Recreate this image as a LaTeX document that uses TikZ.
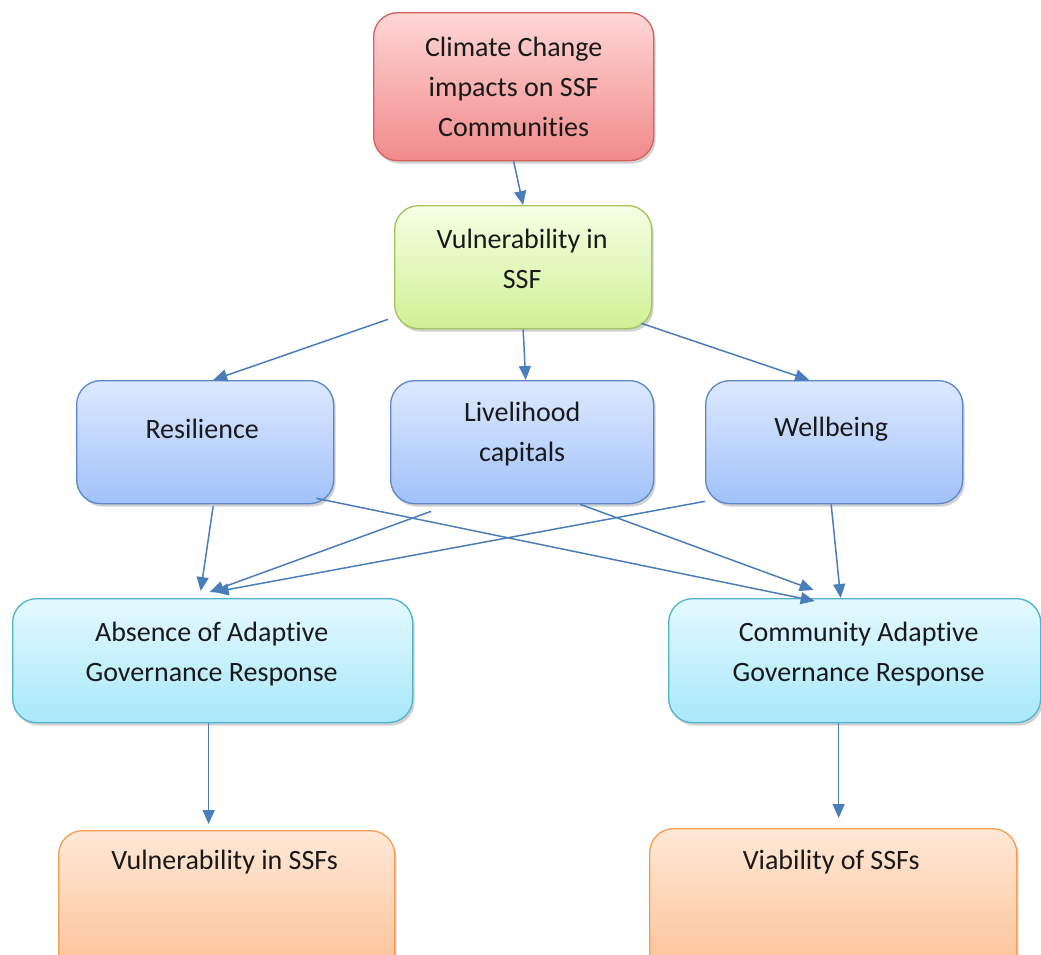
\documentclass[tikz,border=0pt]{standalone}
\usepackage{fontspec}
\setmainfont{Carlito}[Ligatures={NoCommon,NoContextual}]
\usetikzlibrary{arrows.meta,shadows,calc}

\definecolor{redtop}{RGB}{255,214,214}
\definecolor{redbot}{RGB}{241,138,138}
\definecolor{redline}{RGB}{214,98,96}
\definecolor{greentop}{RGB}{246,255,228}
\definecolor{greenbot}{RGB}{208,240,148}
\definecolor{greenline}{RGB}{160,196,96}
\definecolor{bluetop}{RGB}{222,233,255}
\definecolor{bluebot}{RGB}{160,194,250}
\definecolor{blueline}{RGB}{92,135,200}
\definecolor{cyantop}{RGB}{228,249,255}
\definecolor{cyanbot}{RGB}{168,232,250}
\definecolor{cyanline}{RGB}{80,178,204}
\definecolor{orangetop}{RGB}{255,232,214}
\definecolor{orangebot}{RGB}{252,192,148}
\definecolor{orangeline}{RGB}{246,156,84}
\definecolor{arrowblue}{RGB}{74,126,187}
\definecolor{inktext}{RGB}{25,25,25}

\tikzset{
  box/.style={draw, line width=1.3pt, rounded corners=24pt, anchor=north west,
    inner sep=0pt,
    drop shadow={shadow xshift=2pt, shadow yshift=-3pt, opacity=0.18, fill=black}},
  redbox/.style={box, draw=redline, top color=redtop, bottom color=redbot},
  greenbox/.style={box, draw=greenline, top color=greentop, bottom color=greenbot},
  bluebox/.style={box, draw=blueline, top color=bluetop, bottom color=bluebot},
  cyanbox/.style={box, draw=cyanline, top color=cyantop, bottom color=cyanbot},
  orangebox/.style={box, draw=orangeline, top color=orangetop, bottom color=orangebot},
  label text/.style={align=center, text=inktext, inner sep=0pt,
    font=\fontsize{28}{40}\selectfont},
  link/.style={draw=arrowblue, line width=1.5pt,
    -{Triangle[length=14pt,width=12pt]}},
}

\begin{document}
\begin{tikzpicture}[x=1pt,y=-1pt]
\useasboundingbox (0,0) rectangle (1041,954);
\clip (0,0) rectangle (1041,954);

% boxes
\node[redbox, minimum width=280pt, minimum height=148pt] (climate) at (373,12) {};
\node[greenbox, minimum width=257pt, minimum height=123pt] (vuln) at (394,205) {};
\node[bluebox, minimum width=257pt, minimum height=123pt] (resil) at (76,380) {};
\node[bluebox, minimum width=263pt, minimum height=123pt] (liveli) at (390,380) {};
\node[bluebox, minimum width=257pt, minimum height=123pt] (well) at (705,380) {};
\node[cyanbox, minimum width=400pt, minimum height=124pt] (absence) at (12,598) {};
\node[cyanbox, minimum width=372pt, minimum height=124pt] (commun) at (668,598) {};
\node[orangebox, minimum width=336pt, minimum height=150pt] (vulnssf) at (58,830) {};
\node[orangebox, minimum width=367pt, minimum height=150pt] (viab) at (649,828) {};

% texts
\node[label text] (climate-t) at ($(climate.north)+(0,75)$) {Climate Change\\impacts on SSF\\Communities};
\node[label text] (vuln-t) at ($(vuln.north)+(-1,54)$) {Vulnerability in\\SSF};
\node[label text] (resil-t) at ($(resil.north)+(-3,49)$) {Resilience};
\node[label text] (liveli-t) at ($(liveli.north)+(0,54)$) {Livelihood\\capitals};
\node[label text] (well-t) at ($(well.north)+(-3,49)$) {Wellbeing};
\node[label text] (absence-t) at ($(absence.north)+(-1,56)$) {Absence of Adaptive\\Governance Response};
\node[label text] (commun-t) at ($(commun.north)+(4,56)$) {Community Adaptive\\Governance Response};
\node[label text] (vulnssf-t) at ($(vulnssf.north)+(-2,32)$) {Vulnerability in SSFs};
\node[label text] (viab-t) at ($(viab.north)+(-2,34)$) {Viability of SSFs};

% connectors
\draw[link] (climate.south) -- ([xshift=0pt]vuln.north);
\draw[link] ([xshift=-6pt,yshift=10pt]vuln.south west) -- ([xshift=8pt]resil.north);
\draw[link] (vuln.south) -- ([xshift=3.5pt]liveli.north);
\draw[link] ([xshift=-11pt,yshift=6pt]vuln.south east) -- ([xshift=-25pt]well.north);

\draw[link] ([xshift=8pt,yshift=-2pt]resil.south) -- ([xshift=-12pt,yshift=7pt]absence.north);
\draw[link] ([xshift=-91pt,yshift=-7pt]liveli.south) -- ([xshift=-3pt,yshift=6pt]absence.north);
\draw[link] ([yshift=3pt]well.south west) -- ([xshift=2pt,yshift=6pt]absence.north);

\draw[link] ([xshift=-18pt,yshift=6pt]resil.south east) -- ([xshift=-40pt,yshift=-3pt]commun.north);
\draw[link] ([xshift=58pt]liveli.south) -- ([xshift=-41pt,yshift=8pt]commun.north);
\draw[link] ([xshift=-3pt]well.south) -- ([xshift=-14pt]commun.north);

\draw[link] ([xshift=-4pt]absence.south) -- ([xshift=-18pt,yshift=6pt]vulnssf.north);
\draw[link] ([xshift=-16pt]commun.south) -- ([xshift=5.5pt,yshift=10pt]viab.north);
\end{tikzpicture}
\end{document}
